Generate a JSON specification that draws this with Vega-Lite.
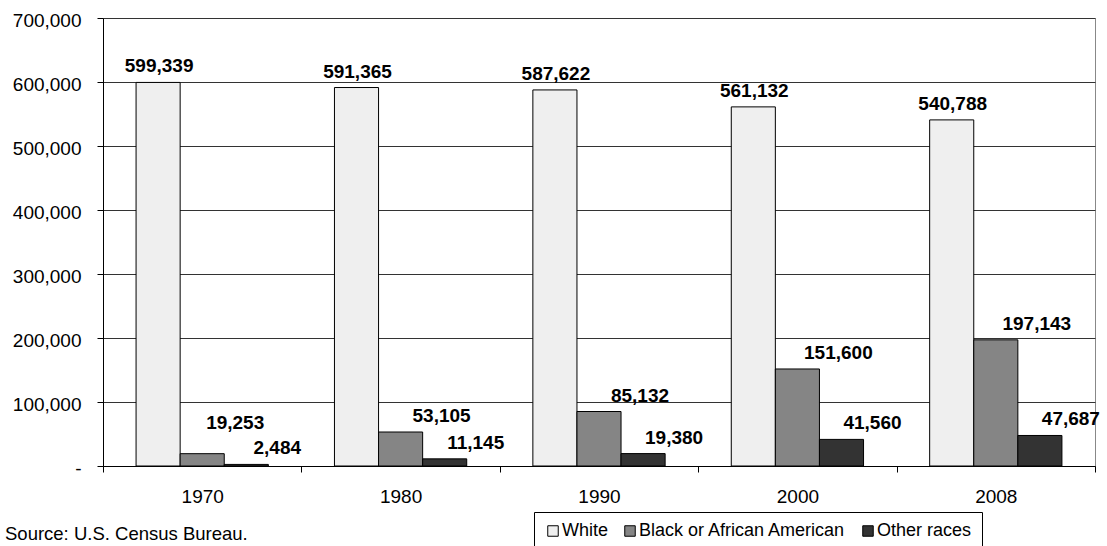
{
  "$schema": "https://vega.github.io/schema/vega-lite/v6.json",
  "width": 992,
  "height": 448,
  "autosize": {"type": "none"},
  "padding": {"left": 103, "top": 18, "right": 12, "bottom": 80},
  "background": "white",
  "config": {
    "font": "Liberation Sans",
    "view": {"stroke": "#888888", "strokeWidth": 1}
  },
  "title": {
    "text": "Source: U.S. Census Bureau.",
    "orient": "bottom",
    "anchor": "start",
    "frame": "group",
    "dx": -98,
    "offset": -26,
    "fontSize": 18.5,
    "fontWeight": "normal",
    "color": "black",
    "font": "Liberation Sans"
  },
  "data": {
    "values": [
      {"year": "1970", "race": "White", "population": 599339},
      {"year": "1970", "race": "Black or African American", "population": 19253},
      {"year": "1970", "race": "Other races", "population": 2484},
      {"year": "1980", "race": "White", "population": 591365},
      {"year": "1980", "race": "Black or African American", "population": 53105},
      {"year": "1980", "race": "Other races", "population": 11145},
      {"year": "1990", "race": "White", "population": 587622},
      {"year": "1990", "race": "Black or African American", "population": 85132},
      {"year": "1990", "race": "Other races", "population": 19380},
      {"year": "2000", "race": "White", "population": 561132},
      {"year": "2000", "race": "Black or African American", "population": 151600},
      {"year": "2000", "race": "Other races", "population": 41560},
      {"year": "2008", "race": "White", "population": 540788},
      {"year": "2008", "race": "Black or African American", "population": 197143},
      {"year": "2008", "race": "Other races", "population": 47687}
    ]
  },
  "encoding": {
    "x": {
      "field": "year",
      "type": "nominal",
      "scale": {"paddingInner": 0, "paddingOuter": 0},
      "axis": {
        "title": null,
        "labelAngle": 0,
        "labelFontSize": 19,
        "labelColor": "black",
        "labelPadding": 15,
        "tickBand": "extent",
        "tickSize": 6,
        "tickColor": "black",
        "domainColor": "black",
        "grid": false
      }
    },
    "xOffset": {
      "field": "race",
      "type": "nominal",
      "sort": ["White", "Black or African American", "Other races"],
      "scale": {"paddingInner": 0, "paddingOuter": 0.75}
    },
    "y": {
      "field": "population",
      "type": "quantitative",
      "scale": {"domain": [0, 700000], "nice": false},
      "axis": {
        "title": null,
        "values": [0, 100000, 200000, 300000, 400000, 500000, 600000, 700000],
        "labelExpr": "datum.value === 0 ? '-    ' : format(datum.value, ',')",
        "labelFontSize": 19,
        "labelColor": "black",
        "labelPadding": 16,
        "labelOffset": 2,
        "tickSize": 6,
        "tickColor": "black",
        "domainColor": "black",
        "gridColor": "#333333",
        "gridWidth": 1
      }
    }
  },
  "layer": [
    {
      "mark": {"type": "bar", "stroke": "black", "strokeWidth": 1},
      "encoding": {
        "color": {
          "field": "race",
          "type": "nominal",
          "scale": {
            "domain": ["White", "Black or African American", "Other races"],
            "range": ["#efefef", "#858585", "#333333"]
          },
          "legend": {
            "title": null,
            "orient": "none",
            "legendX": 431,
            "legendY": 494,
            "direction": "horizontal",
            "padding": 10,
            "strokeColor": "black",
            "fillColor": "white",
            "symbolType": "square",
            "symbolSize": 110,
            "symbolStrokeColor": "black",
            "symbolStrokeWidth": 1,
            "symbolOpacity": 1,
            "labelFontSize": 18,
            "labelFont": "Liberation Sans",
            "labelColor": "black",
            "labelLimit": 0,
            "labelOffset": 0,
            "columnPadding": 12
          }
        }
      }
    },
    {
      "transform": [{"filter": "datum.race === 'White'"}],
      "mark": {"type": "text", "baseline": "alphabetic", "dy": -10, "dx": 1, "fontSize": 19, "fontWeight": "bold", "color": "black"},
      "encoding": {"text": {"field": "population", "type": "quantitative", "format": ","}}
    },
    {
      "transform": [{"filter": "datum.race === 'Black or African American' && datum.year !== '1970'"}],
      "mark": {"type": "text", "baseline": "alphabetic", "dy": -10, "dx": 41, "fontSize": 19, "fontWeight": "bold", "color": "black"},
      "encoding": {"text": {"field": "population", "type": "quantitative", "format": ","}}
    },
    {
      "transform": [{"filter": "datum.race === 'Black or African American' && datum.year === '1970'"}],
      "mark": {"type": "text", "baseline": "alphabetic", "dy": -25, "dx": 33, "fontSize": 19, "fontWeight": "bold", "color": "black"},
      "encoding": {"text": {"field": "population", "type": "quantitative", "format": ","}}
    },
    {
      "transform": [{"filter": "datum.race === 'Other races'"}],
      "mark": {"type": "text", "baseline": "alphabetic", "dy": -10, "dx": 31, "fontSize": 19, "fontWeight": "bold", "color": "black"},
      "encoding": {"text": {"field": "population", "type": "quantitative", "format": ","}}
    }
  ]
}
